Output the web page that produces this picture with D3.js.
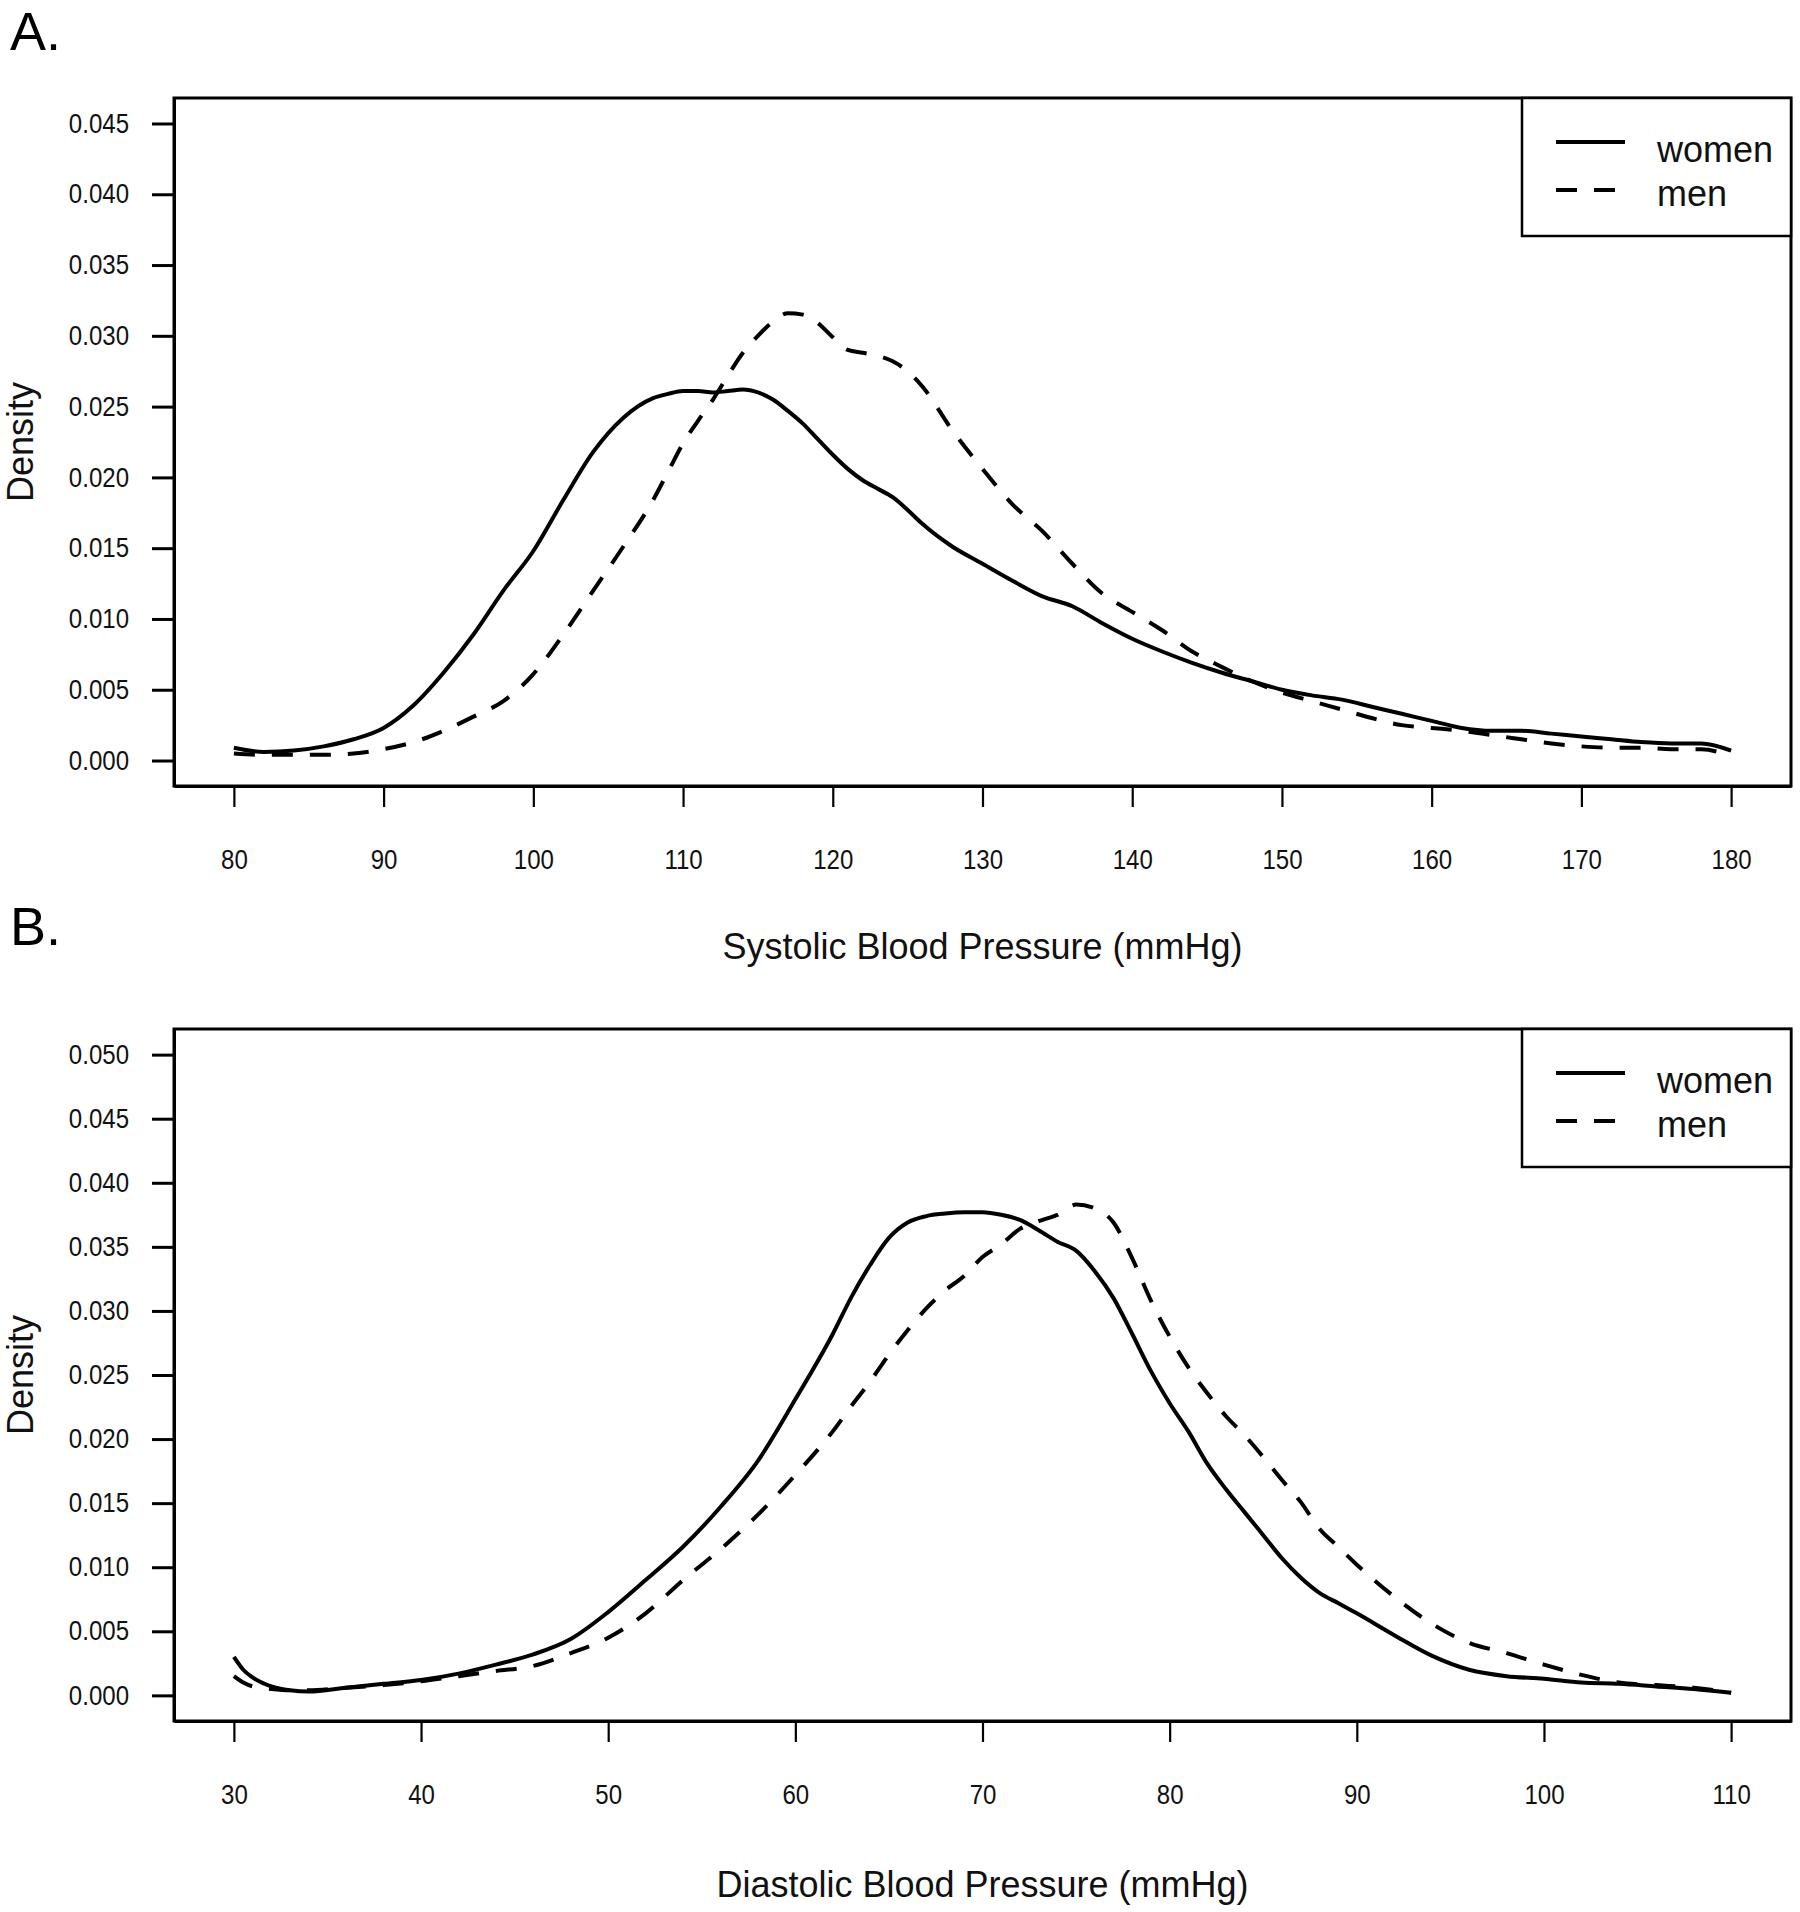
<!DOCTYPE html>
<html>
<head>
<meta charset="utf-8">
<script src="https://cdn.jsdelivr.net/npm/d3@7"></script>
<style>
  body { margin: 0; background: #fff; }
  svg { display: block; }
</style>
</head>
<body>
<div id="chart"></div>
<script>

// Systolic panel (A): density
const sbpX = [80,82,84,86,88,90,92,94,96,98,100,102,104,106,108,109,110,111,112,113,114,115,116,117,118,119,120,121,122,123,124,125,126,128,130,132,134,136,138,140,142,144,146,148,150,152,154,156,158,160,162,164,166,168,170,172,174,176,178,180];
const sbpWomen = [0.0009,0.0006,0.0007,0.0010,0.0015,0.0023,0.0039,0.0062,0.0089,0.0120,0.0148,0.0184,0.0218,0.0242,0.0256,0.0259,0.0261,0.0261,0.0260,0.0261,0.0262,0.0260,0.0255,0.0247,0.0238,0.0227,0.0216,0.0206,0.0198,0.0192,0.0186,0.0177,0.0167,0.0151,0.0139,0.0127,0.0116,0.0109,0.0097,0.0086,0.0077,0.0069,0.0062,0.0056,0.0050,0.0046,0.0043,0.0038,0.0033,0.0028,0.0023,0.0021,0.0021,0.0019,0.0017,0.0015,0.0013,0.0012,0.0012,0.0007];
const sbpMen = [0.0005,0.0004,0.0004,0.0004,0.0005,0.0008,0.0013,0.0021,0.0031,0.0042,0.0061,0.0089,0.0120,0.0151,0.0184,0.0204,0.0224,0.0240,0.0255,0.0272,0.0288,0.0300,0.0310,0.0316,0.0315,0.0309,0.0299,0.0290,0.0288,0.0286,0.0282,0.0275,0.0264,0.0233,0.0206,0.0181,0.0162,0.0139,0.0118,0.0105,0.0092,0.0077,0.0066,0.0056,0.0048,0.0042,0.0036,0.0030,0.0025,0.0023,0.0021,0.0018,0.0015,0.0012,0.0010,0.0009,0.0009,0.0008,0.0008,0.0003];

// Diastolic panel (B)
const dbpX = [30,30.5,31,32,33,34,36,38,40,42,44,46,48,50,52,54,56,58,60,62,63,64,65,66,67,68,69,70,71,72,73,74,75,76,77,78,79,80,81,82,83,84,85,86,87,88,89,90,92,94,96,98,100,102,104,106,108,110];
const dbpWomen = [0.0030,0.0020,0.0014,0.0007,0.0004,0.0003,0.0006,0.0009,0.0012,0.0017,0.0024,0.0032,0.0044,0.0065,0.0090,0.0116,0.0147,0.0183,0.0231,0.0282,0.0311,0.0336,0.0357,0.0369,0.0374,0.0376,0.0377,0.0377,0.0375,0.0371,0.0363,0.0354,0.0347,0.0331,0.0310,0.0282,0.0253,0.0228,0.0206,0.0181,0.0161,0.0143,0.0125,0.0107,0.0092,0.0080,0.0072,0.0064,0.0047,0.0031,0.0020,0.0015,0.0013,0.0010,0.0009,0.0007,0.0005,0.0002];
const dbpMen = [0.0015,0.0010,0.0007,0.0005,0.0004,0.0004,0.0006,0.0008,0.0011,0.0015,0.0019,0.0023,0.0033,0.0045,0.0064,0.0090,0.0114,0.0141,0.0172,0.0206,0.0226,0.0245,0.0266,0.0285,0.0302,0.0316,0.0327,0.0342,0.0352,0.0364,0.0370,0.0375,0.0383,0.0380,0.0369,0.0341,0.0308,0.0280,0.0256,0.0236,0.0218,0.0203,0.0186,0.0168,0.0151,0.0130,0.0116,0.0102,0.0077,0.0056,0.0041,0.0033,0.0024,0.0016,0.0010,0.0008,0.0006,0.0002];

const sbpTicksX = [80,90,100,110,120,130,140,150,160,170,180];
const dbpTicksX = [30,40,50,60,70,80,90,100,110];
const sbpTicksY = [0,0.005,0.010,0.015,0.020,0.025,0.030,0.035,0.040,0.045];
const dbpTicksY = [0,0.005,0.010,0.015,0.020,0.025,0.030,0.035,0.040,0.045,0.050];

const seriesNames = ['women','men'];

const width = 1800, height = 1912;
const fontFamily = "'Liberation Sans', Arial, sans-serif";

let svg = d3.select("#chart").append("svg")
            .attr("width",width)
            .attr("height",height);

function squeeze(sel, factor){
    // R on windows draws the axis numbers narrow; mimic by shrinking the text length
    sel.each(function(){
        let w = this.getComputedTextLength();
        d3.select(this).attr("textLength", w*factor).attr("lengthAdjust","spacingAndGlyphs");
    });
}

function makePanel(svg,{
                    top = 98,
                    bottom = 786,
                    left = 174,
                    right = 1791,
                    xs = [],
                    women = [],
                    men = [],
                    xTicks = [],
                    yTicks = [],
                    xTitle = '',
                    label = '',
                    labelY = 49,
                    titleY = 959,
                    }){

    // R pads the range by 4% on both sides
    let xMin = d3.min(xTicks), xMax = d3.max(xTicks);
    let xPad = (xMax - xMin) * 0.04;
    let yMax = d3.max(yTicks);
    let yPad = yMax * 0.04;

    let xScale = d3.scaleLinear()
                    .domain([xMin - xPad, xMax + xPad])
                    .range([left,right]);

    let yScale = d3.scaleLinear()
                    .domain([-yPad, yMax + yPad])
                    .range([bottom,top]);

    //#region axes
    let xAxis = d3.axisBottom(xScale)
                    .tickValues(xTicks)
                    .tickFormat(d3.format("d"))
                    .tickSize(21)
                    .tickSizeOuter(0)
                    .tickPadding(43);

    let yAxis = d3.axisLeft(yScale)
                    .tickValues(yTicks)
                    .tickFormat(d3.format(".3f"))
                    .tickSize(22)
                    .tickSizeOuter(0)
                    .tickPadding(23);

    let gx = svg.append("g").call(xAxis)
                .attr("transform","translate(0," + bottom + ")")
                .attr("font-family",fontFamily)
                .attr("font-size",27);
    gx.selectAll("line").attr("stroke-width",2.2);
    gx.select(".domain").attr("stroke-width",3);
    squeeze(gx.selectAll("text").attr("fill","#111"),0.89);

    let gy = svg.append("g").call(yAxis)
                .attr("transform","translate(" + left + ",0)")
                .attr("font-family",fontFamily)
                .attr("font-size",27);
    gy.selectAll("line").attr("stroke-width",3);
    gy.select(".domain").attr("stroke-width",3);
    squeeze(gy.selectAll("text").attr("fill","#111"),0.89);
    //#endregion

    // plot box
    svg.append("rect")
        .attr("x",left)
        .attr("y",top)
        .attr("width",right-left)
        .attr("height",bottom-top)
        .attr("fill","none")
        .attr("stroke","#000")
        .attr("stroke-width",3);

    //#region curves
    let lineFunc = d3.line()
                    .x(d => xScale(d[0]))
                    .y(d => yScale(d[1]))
                    .curve(d3.curveMonotoneX);

    let curves = [
        {name:'women', pts: xs.map((x,i) => [x,women[i]]), dash:null},
        {name:'men',   pts: xs.map((x,i) => [x,men[i]]),   dash:'21,17'}
    ];

    svg.selectAll("path.curve" + label.charAt(0))
        .data(curves)
        .join("path")
        .attr("class","curve" + label.charAt(0))
        .attr("d",d => lineFunc(d.pts))
        .attr("fill","none")
        .attr("stroke","#000")
        .attr("stroke-width",4)
        .attr("stroke-dasharray",d => d.dash);
    //#endregion

    //#region legend
    const legLeft = 1522, legHeight = 138;
    svg.append("rect")
        .attr("x",legLeft)
        .attr("y",top)
        .attr("width",right-legLeft)
        .attr("height",legHeight)
        .attr("fill","#fff")
        .attr("stroke","#000")
        .attr("stroke-width",2.5);

    seriesNames.forEach((name,i) => {
        svg.append("line")
            .attr("x1",1556).attr("x2",1625)
            .attr("y1",top + 44 + i*48).attr("y2",top + 44 + i*48)
            .attr("stroke","#000")
            .attr("stroke-width",4)
            .attr("stroke-dasharray",i == 1 ? '21,17' : null);
        svg.append("text")
            .attr("x",1657)
            .attr("y",top + 64 + i*44)
            .attr("font-family",fontFamily)
            .attr("font-size",36)
            .attr("fill","#111")
            .text(name);
    });
    //#endregion

    // titles
    svg.append("text")
        .attr("x",(left+right)/2)
        .attr("y",titleY)
        .attr("text-anchor","middle")
        .attr("font-family",fontFamily)
        .attr("font-size",36)
        .attr("fill","#111")
        .text(xTitle);

    let cy = (top+bottom)/2;
    svg.append("text")
        .attr("transform","translate(33," + cy + ")rotate(-90)")
        .attr("text-anchor","middle")
        .attr("font-family",fontFamily)
        .attr("font-size",36)
        .attr("fill","#111")
        .text("Density");

    svg.append("text")
        .attr("x",10)
        .attr("y",labelY)
        .attr("font-family",fontFamily)
        .attr("font-size",54)
        .attr("fill","#000")
        .text(label);
}

makePanel(svg,{
    top:98, bottom:786,
    xs:sbpX, women:sbpWomen, men:sbpMen,
    xTicks:sbpTicksX, yTicks:sbpTicksY,
    xTitle:'Systolic Blood Pressure (mmHg)',
    label:'A.', labelY:50, titleY:959
});

makePanel(svg,{
    top:1029, bottom:1721,
    xs:dbpX, women:dbpWomen, men:dbpMen,
    xTicks:dbpTicksX, yTicks:dbpTicksY,
    xTitle:'Diastolic Blood Pressure (mmHg)',
    label:'B.', labelY:945, titleY:1897
});

</script>
</body>
</html>
